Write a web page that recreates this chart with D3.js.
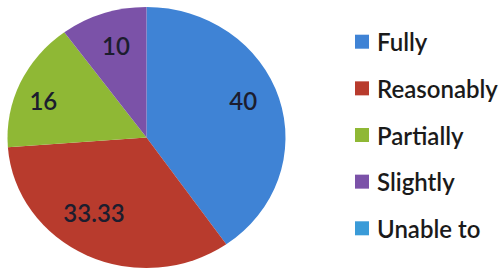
<!DOCTYPE html>
<html><head><meta charset="utf-8">
<script src="https://cdn.jsdelivr.net/npm/d3@7/dist/d3.min.js"></script>
<style>html,body{margin:0;padding:0;background:#fff;overflow:hidden;}</style>
</head>
<body>
<svg id="c" width="504" height="270"></svg>
<script>
const categories = ["Fully", "Reasonably", "Partially", "Slightly", "Unable to"];
const values = [40, 33.33, 16, 10, 0];
const valueLabels = ["40", "33.33", "16", "10", ""];
const colors = ["#3f83d5", "#b83b2d", "#8fb835", "#7b52a8", "#3a9bd8"];

// label nudges (layout only), in px
const labelNudge = [[0, -8], [-9, -11], [-11, 3], [1, -1], [0, 0]];

const svg = d3.select("#c");
const cx = 146.5, cy = 137.5, rx = 139, ry = 130.5;

const data = categories.map((c, i) => ({cat: c, value: values[i], label: valueLabels[i], color: colors[i], nudge: labelNudge[i]}));
const pie = d3.pie().sort(null).value(d => d.value);
const arcs = pie(data);
const arc = d3.arc().innerRadius(0).outerRadius(rx);
const labelArc = d3.arc().innerRadius(rx * 0.73).outerRadius(rx * 0.73);

const g = svg.append("g").attr("transform", `translate(${cx},${cy}) scale(1,${ry / rx})`);
g.selectAll("path").data(arcs).join("path")
  .attr("d", arc)
  .attr("fill", d => d.data.color);

const lg = svg.append("g").attr("transform", `translate(${cx},${cy})`);
lg.selectAll("text").data(arcs.filter(d => d.data.label)).join("text")
  .attr("x", d => labelArc.centroid(d)[0] + d.data.nudge[0])
  .attr("y", d => labelArc.centroid(d)[1] * ry / rx + d.data.nudge[1])
  .attr("text-anchor", "middle")
  .attr("dominant-baseline", "central")
  .attr("font-family", "Lato, 'Open Sans', sans-serif")
  .attr("font-size", 24)
  .attr("font-weight", 600)
  .attr("fill", "#1c1d2e")
  .text(d => d.data.label);

const ly = d3.scalePoint().domain(categories).range([41.7, 228.3]);
const leg = svg.append("g");
const row = leg.selectAll("g").data(data).join("g")
  .attr("transform", d => `translate(355,${ly(d.cat)})`);
row.append("rect").attr("x", 0).attr("y", -7).attr("width", 14).attr("height", 14)
  .attr("fill", d => d.color);
row.append("text").attr("x", 22).attr("y", 0)
  .attr("dominant-baseline", "central")
  .attr("font-family", "Lato, 'Open Sans', sans-serif")
  .attr("font-size", 24)
  .attr("font-weight", 600)
  .attr("fill", "#1a1a1a")
  .text(d => d.cat);
</script>
</body></html>
